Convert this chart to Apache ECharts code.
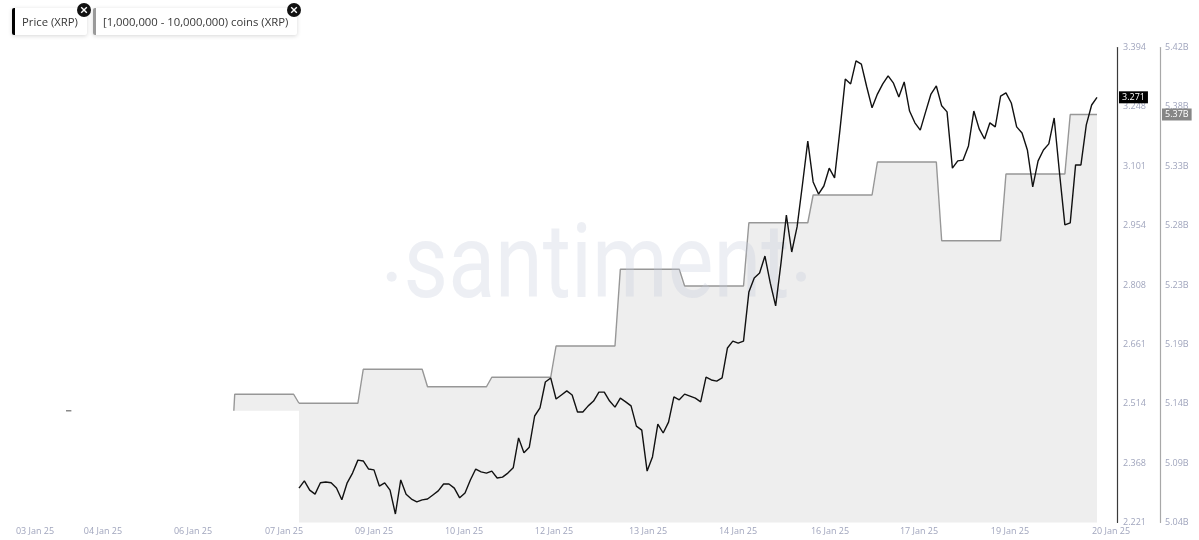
<!DOCTYPE html>
<html><head><meta charset="utf-8">
<script src="https://cdn.jsdelivr.net/npm/echarts@6/dist/echarts.min.js"></script>
<style>html,body{margin:0;padding:0;background:#fff}#c{width:1199px;height:540px}</style>
</head><body><div id="c"></div>
<script>
// ---------- data ----------
const priceStart = '2025-01-08T01:00';
const priceStepHours = 2;
const priceValues = [
  2.306, 2.324, 2.301, 2.291, 2.319, 2.321, 2.319, 2.306, 2.277, 2.319,
  2.343, 2.375, 2.373, 2.353, 2.351, 2.311, 2.319, 2.301, 2.242, 2.326,
  2.291, 2.279, 2.272, 2.277, 2.279, 2.289, 2.299, 2.316, 2.316, 2.306,
  2.282, 2.294, 2.326, 2.353, 2.346, 2.343, 2.348, 2.331, 2.333, 2.343,
  2.356, 2.430, 2.393, 2.407, 2.484, 2.504, 2.568, 2.578, 2.526, 2.536,
  2.546, 2.536, 2.494, 2.494, 2.509, 2.521, 2.543, 2.543, 2.521, 2.506,
  2.528, 2.519, 2.509, 2.459, 2.449, 2.348, 2.383, 2.464, 2.442, 2.469,
  2.531, 2.524, 2.538, 2.533, 2.528, 2.519, 2.580, 2.573, 2.570, 2.578,
  2.652, 2.669, 2.664, 2.669, 2.790, 2.825, 2.837, 2.879, 2.812, 2.756,
  2.862, 2.980, 2.889, 2.951, 3.055, 3.163, 3.062, 3.032, 3.052, 3.096,
  3.072, 3.190, 3.316, 3.304, 3.361, 3.353, 3.297, 3.245, 3.279, 3.304,
  3.324, 3.306, 3.272, 3.309, 3.237, 3.208, 3.190, 3.235, 3.279, 3.299,
  3.250, 3.235, 3.096, 3.114, 3.116, 3.151, 3.237, 3.193, 3.168, 3.208,
  3.198, 3.274, 3.282, 3.257, 3.198, 3.183, 3.141, 3.050, 3.114, 3.141,
  3.156, 3.220, 3.084, 2.956, 2.961, 3.104, 3.104, 3.203, 3.252, 3.271
];
const holdingsDays = ['2025-01-07','2025-01-08','2025-01-09','2025-01-10','2025-01-11','2025-01-12','2025-01-13',
  '2025-01-14','2025-01-15','2025-01-16','2025-01-17','2025-01-18','2025-01-19','2025-01-20'];
const holdingsValues = [5.1466, 5.1394, 5.1666, 5.1526, 5.1602, 5.1852, 5.2466,
  5.2332, 5.2838, 5.3060, 5.3324, 5.2694, 5.3228, 5.3704]; // billions of coins
const holdingsBaseline = 5.1334;
const holdingsEarlyTimes = ['2025-01-04T10:00', '2025-01-04T12:00'];
const holdingsEarlyValues = [5.1334, 5.1334];

const xRange = ['2025-01-03T13:05', '2025-01-20T18:28'];
const xTickTimes = ['2025-01-03T22:25','2025-01-04T23:48','2025-01-06T09:25','2025-01-07T19:24','2025-01-09T05:01',
  '2025-01-10T14:37','2025-01-12T00:13','2025-01-13T11:20','2025-01-14T20:56','2025-01-16T07:18',
  '2025-01-17T16:32','2025-01-19T02:30','2025-01-20T16:13'];
const xTickLabels = ['03 Jan 25','04 Jan 25','06 Jan 25','07 Jan 25','09 Jan 25','10 Jan 25','12 Jan 25',
  '13 Jan 25','14 Jan 25','16 Jan 25','17 Jan 25','19 Jan 25','20 Jan 25'];

const priceRange = [2.221, 3.394];
const priceTickLabels = ['2.221','2.368','2.514','2.661','2.808','2.954','3.101','3.248','3.394'];
const holdingsRange = [5.044, 5.424];
const holdingsTickLabels = ['5.04B','5.09B','5.14B','5.19B','5.23B','5.28B','5.33B','5.38B','5.42B'];

const legendNames = ['Price (XRP)', '[1,000,000 - 10,000,000) coins (XRP)'];

// ---------- helpers ----------
function ts(s) {
  const m = s.match(/(\d+)-(\d+)-(\d+)(?:T(\d+):(\d+))?/);
  return Date.UTC(+m[1], m[2] - 1, +m[3], +(m[4] || 0), +(m[5] || 0));
}
const HOUR = 3600e3;
const t0 = ts(priceStart);
const priceData = priceValues.map((v, i) => [t0 + i * priceStepHours * HOUR, v]);
const lastPriceTime = priceData[priceData.length - 1][0];

// holdings: daily values, sampled on the same 2h grid (held 01:00..23:00)
const dayStart = d => ts(d + 'T01:00');
const dayEnd = (d, i) => i === holdingsDays.length - 1 ? lastPriceTime : ts(d + 'T23:00');
const holdingsA = [
  [ts(holdingsDays[0] + 'T00:40'), holdingsBaseline],
  [dayStart(holdingsDays[0]), holdingsValues[0]],
  [dayEnd(holdingsDays[0], 0), holdingsValues[0]],
  [dayStart(holdingsDays[1]), holdingsValues[1]]
];
const holdingsB = [];
for (let i = 1; i < holdingsDays.length; i++) {
  holdingsB.push([dayStart(holdingsDays[i]), holdingsValues[i]]);
  holdingsB.push([dayEnd(holdingsDays[i], i), holdingsValues[i]]);
}
const holdingsEarly = holdingsEarlyTimes.map((t, i) => [ts(t), holdingsEarlyValues[i]]);

function ticksFor(range, n) {
  const out = [];
  for (let k = 0; k < n; k++) out.push(k === n - 1 ? range[1] : range[0] + (range[1] - range[0]) * k / (n - 1));
  return out;
}
function labelFor(range, labels) {
  return v => labels[Math.round((v - range[0]) / (range[1] - range[0]) * (labels.length - 1))];
}
const xTickMs = xTickTimes.map(ts);

const LABEL_COLOR = '#a0a5bd';
const FONT = '"Open Sans", "Noto Sans", sans-serif';

const chart = echarts.init(document.getElementById('c'), null, { renderer: 'canvas' });
chart.setOption({
  animation: false,
  backgroundColor: '#fff',
  grid: { left: 10, right: 82, top: 47.5, bottom: 17.5, containLabel: false, outerBoundsMode: 'none' },
  xAxis: {
    type: 'value', min: ts(xRange[0]), max: ts(xRange[1]),
    axisLine: { show: false }, axisTick: { show: false }, splitLine: { show: false },
    axisLabel: {
      customValues: xTickMs, hideOverlap: false, margin: 4,
      color: LABEL_COLOR, fontSize: 9, fontFamily: FONT,
      formatter: v => {
        let bi = 0;
        xTickMs.forEach((t, i) => { if (Math.abs(t - v) < Math.abs(xTickMs[bi] - v)) bi = i; });
        return xTickLabels[bi];
      }
    }
  },
  yAxis: [
    {
      type: 'value', position: 'right', min: priceRange[0], max: priceRange[1],
      axisLine: { show: true, onZero: false, lineStyle: { color: '#3a3a3a', width: 1.2 } },
      axisTick: { show: false }, splitLine: { show: false },
      axisLabel: {
        customValues: ticksFor(priceRange, priceTickLabels.length), margin: 6,
        color: LABEL_COLOR, fontSize: 9, fontFamily: FONT,
        formatter: labelFor(priceRange, priceTickLabels)
      }
    },
    {
      type: 'value', position: 'right', offset: 43, min: holdingsRange[0], max: holdingsRange[1],
      axisLine: { show: true, onZero: false, lineStyle: { color: '#a8a8a8', width: 1.2 } },
      axisTick: { show: false }, splitLine: { show: false },
      axisLabel: {
        customValues: ticksFor(holdingsRange, holdingsTickLabels.length), margin: 5,
        color: LABEL_COLOR, fontSize: 9, fontFamily: FONT,
        formatter: labelFor(holdingsRange, holdingsTickLabels)
      }
    }
  ],
  series: [
    {
      name: legendNames[1] + ' a', type: 'line', yAxisIndex: 1, data: holdingsA, z: 1,
      showSymbol: false, symbol: 'none', silent: true,
      lineStyle: { color: '#979797', width: 1.4 },
      areaStyle: { color: '#eeeeee', opacity: 1, origin: holdingsBaseline }
    },
    {
      name: legendNames[1], type: 'line', yAxisIndex: 1, data: holdingsB, z: 1,
      showSymbol: false, symbol: 'none', silent: true,
      lineStyle: { color: '#979797', width: 1.4 },
      areaStyle: { color: '#eeeeee', opacity: 1, origin: 'start' }
    },
    {
      name: legendNames[1] + ' early', type: 'line', yAxisIndex: 1, data: holdingsEarly, z: 1,
      showSymbol: false, symbol: 'none', silent: true,
      lineStyle: { color: '#8a8a8a', width: 1.4 }
    },
    {
      name: legendNames[0], type: 'line', yAxisIndex: 0, data: priceData, z: 4,
      showSymbol: false, symbol: 'none', silent: true,
      lineStyle: { color: '#111', width: 1.4 }
    }
  ]
});

// ---------- overlay: watermark, legend chips, current-value badges ----------
const xRight = chart.convertToPixel({ xAxisIndex: 0 }, ts(xRange[1]));
const yPrice = chart.convertToPixel({ yAxisIndex: 0 }, priceValues[priceValues.length - 1]);
const yHold = chart.convertToPixel({ yAxisIndex: 1 }, holdingsValues[holdingsValues.length - 1]);
const WM = 'rgba(196,201,220,0.30)';

function closeIcon(cx, cy) {
  return [
    { type: 'circle', z: 20, shape: { cx, cy, r: 7 }, style: { fill: '#111' } },
    { type: 'line', z: 21, shape: { x1: cx - 2.8, y1: cy - 2.8, x2: cx + 2.8, y2: cy + 2.8 }, style: { stroke: '#fff', lineWidth: 1.4 } },
    { type: 'line', z: 21, shape: { x1: cx + 2.8, y1: cy - 2.8, x2: cx - 2.8, y2: cy + 2.8 }, style: { stroke: '#fff', lineWidth: 1.4 } }
  ];
}
function chip(x, w, barColor, text) {
  return [
    { type: 'rect', z: 15, shape: { x, y: 8, width: w, height: 27, r: 2 },
      style: { fill: '#fff', shadowBlur: 4, shadowColor: 'rgba(0,0,0,0.16)', shadowOffsetY: 1 } },
    { type: 'rect', z: 16, shape: { x, y: 8, width: 3, height: 27, r: [2, 0, 0, 2] }, style: { fill: barColor } },
    { type: 'text', z: 16, x: x + 10, y: 22.5,
      style: { text, fill: '#383838', font: '11.3px ' + FONT, verticalAlign: 'middle', textVerticalAlign: 'middle' } }
  ];
}

chart.setOption({
  graphic: [
    { type: 'text', z: 2, x: 596.5, y: 271, scaleX: 0.83, silent: true,
      style: { text: 'santiment', font: '400 104px Roboto', fill: WM,
        align: 'center', textAlign: 'center', verticalAlign: 'middle', textVerticalAlign: 'middle' } },
    { type: 'circle', z: 2, silent: true, shape: { cx: 391.7, cy: 276.7, r: 5 }, style: { fill: WM } },
    { type: 'circle', z: 2, silent: true, shape: { cx: 801, cy: 276.7, r: 5 }, style: { fill: WM } },
    ...chip(12, 75, '#000', legendNames[0]),
    ...closeIcon(84, 10),
    ...chip(93, 204, '#9a9a9a', legendNames[1]),
    ...closeIcon(294, 10),
    { type: 'text', z: 30, x: xRight + 2, y: yPrice,
      style: { text: priceValues[priceValues.length - 1].toFixed(3), fill: '#fff', backgroundColor: '#000',
        padding: [2, 3, 1, 3], font: '9px ' + FONT, verticalAlign: 'middle', textVerticalAlign: 'middle' } },
    { type: 'text', z: 30, x: xRight + 45, y: yHold,
      style: { text: holdingsValues[holdingsValues.length - 1].toFixed(2) + 'B', fill: '#fff', backgroundColor: '#868686',
        padding: [2, 3, 1, 3], font: '9px ' + FONT, verticalAlign: 'middle', textVerticalAlign: 'middle' } }
  ]
});
</script>
</body></html>
